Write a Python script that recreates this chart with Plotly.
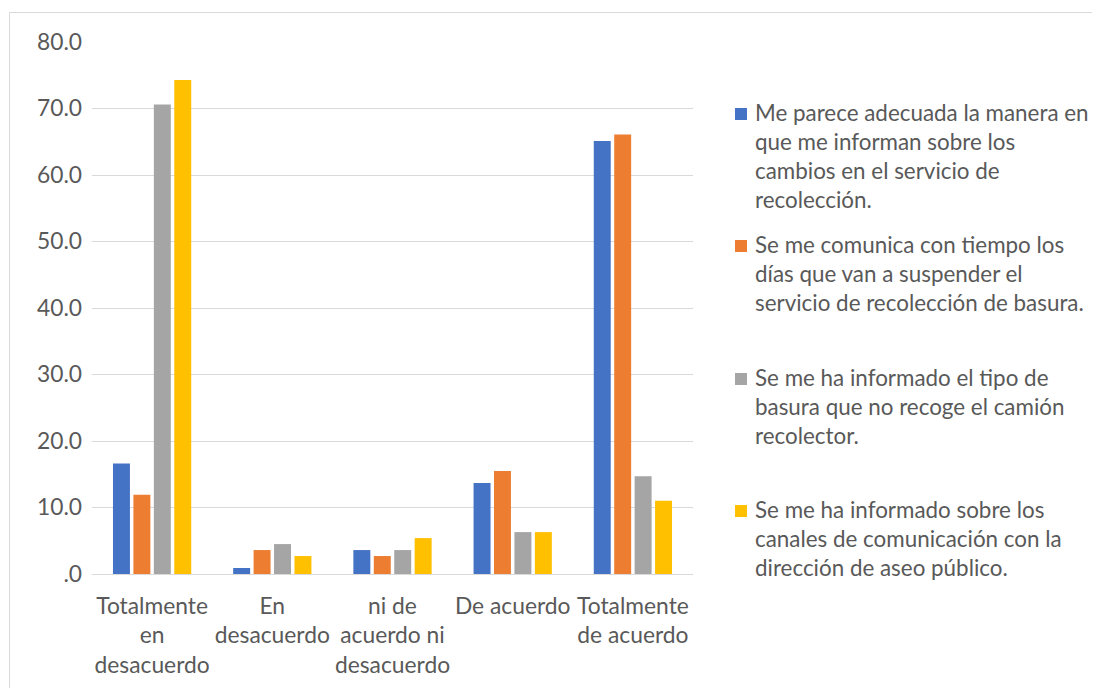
import plotly.graph_objects as go

categories = ["Totalmente<br>en<br>desacuerdo", "En<br>desacuerdo", "ni de<br>acuerdo ni<br>desacuerdo",
              "De acuerdo", "Totalmente<br>de acuerdo"]
series_names = [
    "Me parece adecuada la manera en<br>que me informan sobre los<br>cambios en el servicio de<br>recolección.",
    "Se me comunica con tiempo los<br>días que van a suspender el<br>servicio de recolección de basura.",
    "Se me ha informado el tipo de<br>basura que no recoge el camión<br>recolector.",
    "Se me ha informado sobre los<br>canales de comunicación con la<br>dirección de aseo público.",
]
s1 = [16.6, 0.9, 3.6, 13.7, 65.1]
s2 = [11.9, 3.6, 2.7, 15.5, 66.1]
s3 = [70.6, 4.5, 3.6, 6.3, 14.7]
s4 = [74.3, 2.7, 5.4, 6.3, 11.0]
series_values = [s1, s2, s3, s4]
colors = ["#4472C4", "#ED7D31", "#A5A5A5", "#FFC000"]
tick_vals = [0, 10, 20, 30, 40, 50, 60, 70, 80]
tick_text = [".0", "10.0", "20.0", "30.0", "40.0", "50.0", "60.0", "70.0", "80.0"]

FONT = "Lato"
FS_LEG = 22.4
FS_AX = 22.8
TXT = "#595959"

fig = go.Figure()
for name, vals, c in zip(series_names, series_values, colors):
    fig.add_trace(go.Bar(x=categories, y=vals, name=name, marker_color=c,
                         marker_line_width=0, showlegend=False))

# page body has an 8px offset; target pixel positions are given in screen coords
OFF = 8
W, H = 1100, 688
L, R, T, B = 92 - OFF, 693 - OFF, 42 - OFF, 574 - OFF
pw, ph = R - L, B - T

def px(p):
    return (p - OFF - L) / pw

def py(p):
    return (B - (p - OFF)) / ph

shapes = [dict(type="rect", xref="paper", yref="paper", x0=px(9.5), x1=px(1120), y0=py(12.5), y1=py(720),
               line=dict(color="#D9D9D9", width=1), fillcolor="rgba(0,0,0,0)", layer="below")]
annotations = []
legend_y = [113, 245, 378, 510]
for name, c, yc in zip(series_names, colors, legend_y):
    shapes.append(dict(type="rect", xref="paper", yref="paper", x0=px(735), x1=px(747),
                       y0=py(yc - 5), y1=py(yc + 7), line=dict(width=0), fillcolor=c))
    annotations.append(dict(xref="paper", yref="paper", x=px(753), y=py(yc - 16), xanchor="left",
                            yanchor="top", align="left", showarrow=False, text=name,
                            font=dict(family=FONT, size=FS_LEG, color=TXT)))

fig.update_layout(
    width=W, height=H,
    margin=dict(l=L, r=W - R, t=T, b=H - B, pad=0),
    paper_bgcolor="white", plot_bgcolor="white",
    barmode="group", bargap=0.32, bargroupgap=0.17,
    font=dict(family=FONT, size=FS_AX, color=TXT),
    shapes=shapes, annotations=annotations,
    xaxis=dict(showgrid=False, showline=False, ticks="", ticklabelstandoff=16,
               tickfont=dict(size=FS_AX, color=TXT)),
    yaxis=dict(range=[0, 80], tickvals=tick_vals, ticktext=tick_text, showgrid=True,
               gridcolor="#D9D9D9", gridwidth=1, zeroline=True, zerolinecolor="#D9D9D9",
               zerolinewidth=1, showline=False, ticks="", ticklabelstandoff=9,
               tickfont=dict(size=FS_AX, color=TXT)),
)
fig.write_html("out.html")
